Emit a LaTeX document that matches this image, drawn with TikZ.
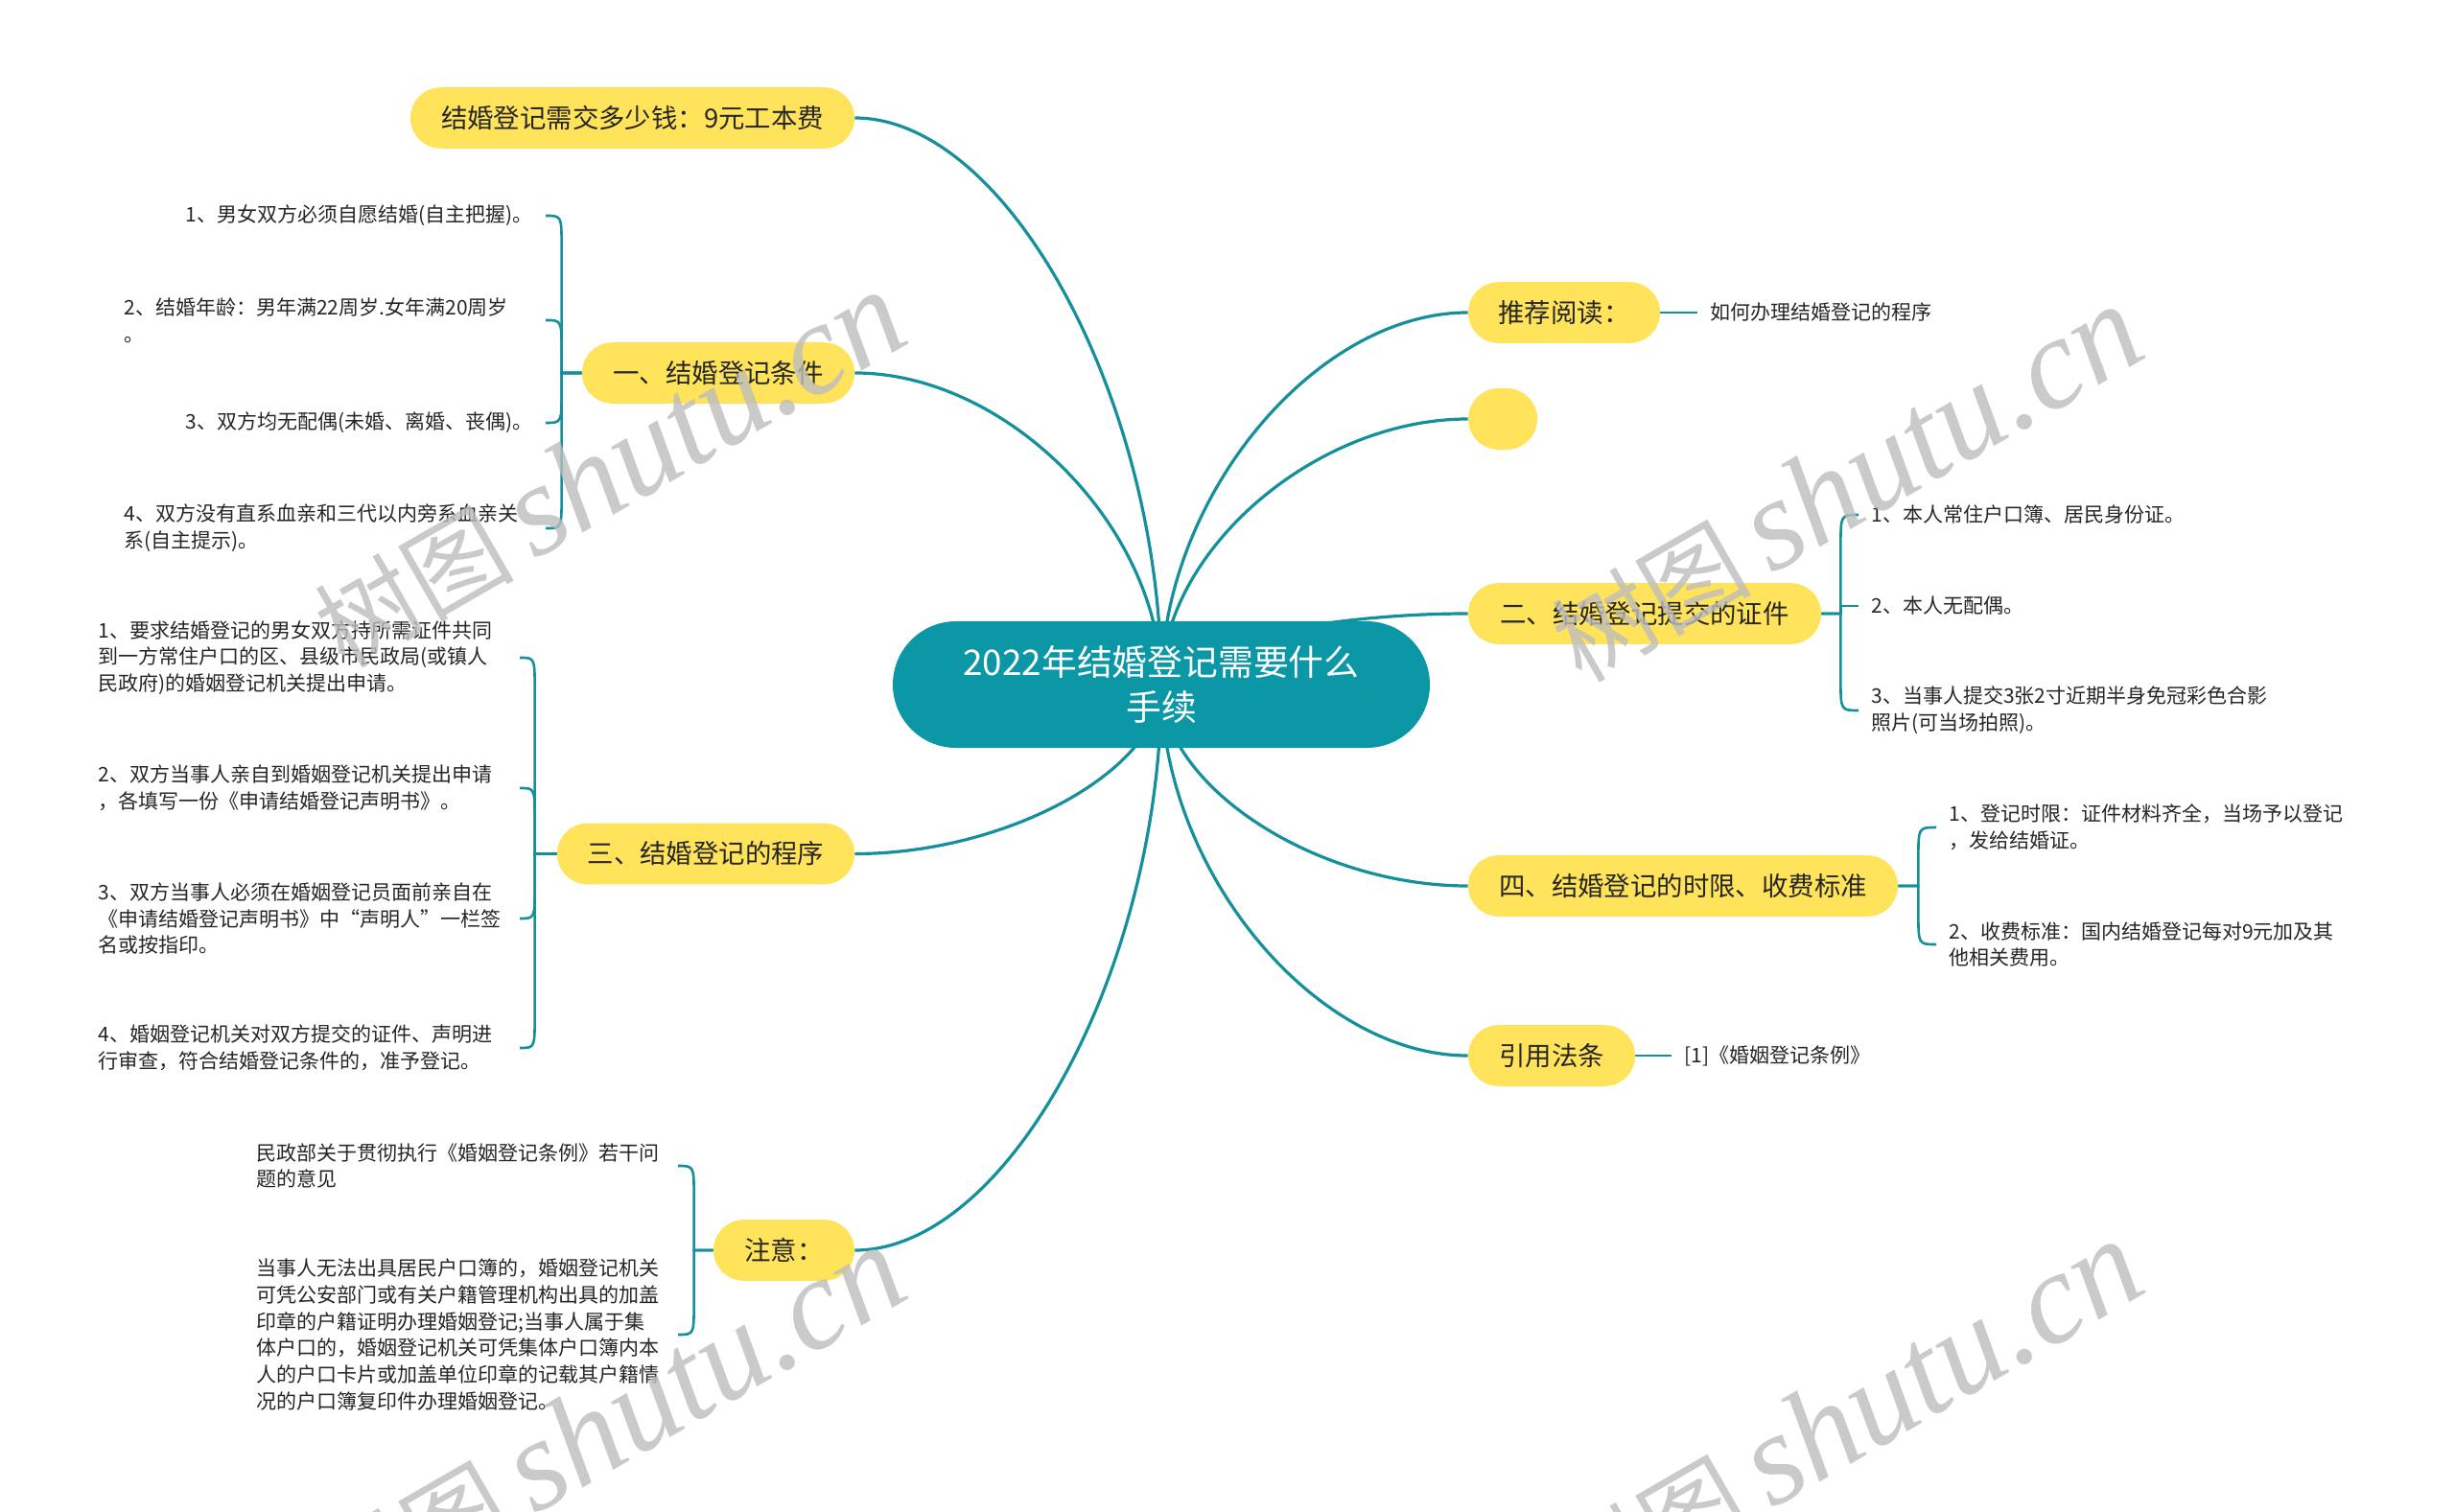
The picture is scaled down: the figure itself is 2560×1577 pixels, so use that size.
\documentclass[tikz,border=0pt]{standalone}
\usepackage{fontspec}
\setmainfont{Noto Sans CJK SC}
\newfontfamily\wmlatin{Liberation Serif}
\usetikzlibrary{calc,backgrounds}
\definecolor{teal1}{HTML}{0C97A7}
\definecolor{tline}{HTML}{14909D}
\definecolor{ynode}{HTML}{FFE35A}
\definecolor{txt}{HTML}{262626}
\definecolor{wm}{HTML}{BDBDBD}
\tikzset{
  topic/.style={rectangle, rounded corners=15.8pt, fill=ynode, minimum height=31.8pt,
    inner xsep=10pt, inner ysep=0pt, font=\fontsize{13.7pt}{16pt}\selectfont, text=txt},
  leaf/.style={inner xsep=6.5pt, inner ysep=2pt, font=\fontsize{10.5pt}{13.9pt}\selectfont,
    text=txt, align=left},
  lleaf/.style={leaf, anchor=east},
  rleaf/.style={leaf, anchor=west},
  wtext/.style={text width=213pt},
  mainline/.style={draw=tline, line width=1.6pt},
  brline/.style={draw=tline, line width=1.3pt},
  wmark/.style={text=wm, opacity=0.8, rotate=30, inner sep=0pt},
}
\begin{document}
\begin{tikzpicture}[x=0.5pt, y=-0.5pt]
\useasboundingbox (0,0) rectangle (2560,1577);

% central topic
\node[rectangle, rounded corners=33pt, fill=teal1, minimum width=280pt, minimum height=66pt,
  text=white, align=center, font=\fontsize{18.4pt}{23.5pt}\selectfont] (c) at (1211,714)
  {2022年结婚登记需要什么\\手续};

% main topics
\node[topic, minimum width=231.5pt] (n9) at (659.5,123) {结婚登记需交多少钱：9元工本费};
\node[topic, minimum width=142pt] (n1) at (749,389) {一、结婚登记条件};
\node[topic, minimum width=155pt] (n3) at (736,890.5) {三、结婚登记的程序};
\node[topic, minimum width=73.5pt] (nz) at (817.5,1304) {注意：};
\node[topic, minimum width=100pt] (tj) at (1631,326) {推荐阅读：};
\node[topic, minimum width=36pt, minimum height=32pt, inner xsep=0pt, rounded corners=16pt] (em) at (1567,437) {};
\node[topic, minimum width=184pt] (n2) at (1715,640) {二、结婚登记提交的证件};
\node[topic, minimum width=224pt] (n4) at (1755,924) {四、结婚登记的时限、收费标准};
\node[topic, minimum width=87pt] (yy) at (1618,1101) {引用法条};

% leaves of 一
\node[lleaf] (a1) at (569,225) {1、男女双方必须自愿结婚(自主把握)。};
\node[lleaf, wtext] (a2) at (569,334) {2、结婚年龄：男年满22周岁.女年满20周岁\\。};
\node[lleaf] (a3) at (569,441) {3、双方均无配偶(未婚、离婚、丧偶)。};
\node[lleaf, wtext] (a4) at (569,551) {4、双方没有直系血亲和三代以内旁系血亲关\\系(自主提示)。};

% leaves of 三
\node[lleaf, wtext] (b1) at (542,686) {1、要求结婚登记的男女双方持所需证件共同\\到一方常住户口的区、县级市民政局(或镇人\\民政府)的婚姻登记机关提出申请。};
\node[lleaf, wtext] (b2) at (542,822) {2、双方当事人亲自到婚姻登记机关提出申请\\，各填写一份《申请结婚登记声明书》。};
\node[lleaf, wtext] (b3) at (542,958) {3、双方当事人必须在婚姻登记员面前亲自在\\《申请结婚登记声明书》中“声明人”一栏签\\名或按指印。};
\node[lleaf, wtext] (b4) at (542,1093) {4、婚姻登记机关对双方提交的证件、声明进\\行审查，符合结婚登记条件的，准予登记。};

% leaves of 注意
\node[lleaf, wtext] (z1) at (707,1216) {民政部关于贯彻执行《婚姻登记条例》若干问\\题的意见};
\node[lleaf, wtext] (z2) at (707,1392) {当事人无法出具居民户口簿的，婚姻登记机关\\可凭公安部门或有关户籍管理机构出具的加盖\\印章的户籍证明办理婚姻登记;当事人属于集\\体户口的，婚姻登记机关可凭集体户口簿内本\\人的户口卡片或加盖单位印章的记载其户籍情\\况的户口簿复印件办理婚姻登记。};

% right leaves
\node[rleaf] (t1) at (1770,326) {如何办理结婚登记的程序};
\node[rleaf] (c1) at (1938,537) {1、本人常住户口簿、居民身份证。};
\node[rleaf] (c2) at (1938,632) {2、本人无配偶。};
\node[rleaf] (c3) at (1938,741) {3、当事人提交3张2寸近期半身免冠彩色合影\\照片(可当场拍照)。};
\node[rleaf] (d1) at (2019,863) {1、登记时限：证件材料齐全，当场予以登记\\，发给结婚证。};
\node[rleaf] (d2) at (2019,985) {2、收费标准：国内结婚登记每对9元加及其\\他相关费用。};
\node[rleaf] (y1) at (1743,1101) {[1]《婚姻登记条例》};

% spine coordinates
\coordinate (s1) at ($(n1.west)+(-21,0)$);
\coordinate (s3) at ($(n3.west)+(-23,0)$);
\coordinate (sz) at ($(nz.west)+(-20,0)$);
\coordinate (s2) at ($(n2.east)+(20,0)$);
\coordinate (s4) at ($(n4.east)+(21,0)$);

\begin{pgfonlayer}{background}
\fill[white] (0,0) rectangle (2560,1577);
% main curves
\foreach \nd in {n9,n1,n3,nz}{
  \draw[mainline] let \p1=(c.center), \p2=(\nd.east) in
    (\p1) .. controls (\x1,{(\y1+(\y2))/2}) and ({(\x1+\x2)/2},\y2) .. (\p2);
}
\foreach \nd in {tj,em,n2,n4,yy}{
  \draw[mainline] let \p1=(c.center), \p2=(\nd.west) in
    (\p1) .. controls (\x1,{(\y1+(\y2))/2}) and ({(\x1+\x2)/2},\y2) .. (\p2);
}
% left brackets
\foreach \pa/\sa/\la in {n1/s1/a1,n1/s1/a2,n1/s1/a3,n1/s1/a4,n3/s3/b1,n3/s3/b2,n3/s3/b3,n3/s3/b4,nz/sz/z1,nz/sz/z2}{
  \draw[brline] let \p1=(\sa), \p2=(\la.east) in
    (\pa.west) -- (\p1) -- (\x1,{\y2+16*sign(\y1-(\y2))}) .. controls (\x1,\y2) .. (\p2);
}
% right brackets
\foreach \pa/\sa/\la in {n2/s2/c1,n2/s2/c3,n4/s4/d1,n4/s4/d2}{
  \draw[brline] let \p1=(\sa), \p2=(\la.west) in
    (\pa.east) -- (\p1) -- (\x1,{\y2+16*sign(\y1-(\y2))}) .. controls (\x1,\y2) .. (\p2);
}
\draw[brline] (n2.east) -- (s2) -- (s2 |- c2.west) -- (c2.west);
\draw[brline] (tj.east) -- (t1.west);
\draw[brline] (yy.east) -- (y1.west);
\end{pgfonlayer}

% watermarks
\begin{scope}
\clip (0,0) rectangle (2560,1577);
\foreach \wn/\pos in {w1/{(635,490)}, w2/{(1925,505)}, w3/{(635,1486)}, w4/{(1925,1480)}}{
  \node[wmark] (\wn) at \pos {{\fontsize{52pt}{52pt}\selectfont 树图}\hspace{10pt}{\wmlatin\itshape\fontsize{68pt}{68pt}\selectfont shutu.cn}};
}
\end{scope}
\end{tikzpicture}
\end{document}
